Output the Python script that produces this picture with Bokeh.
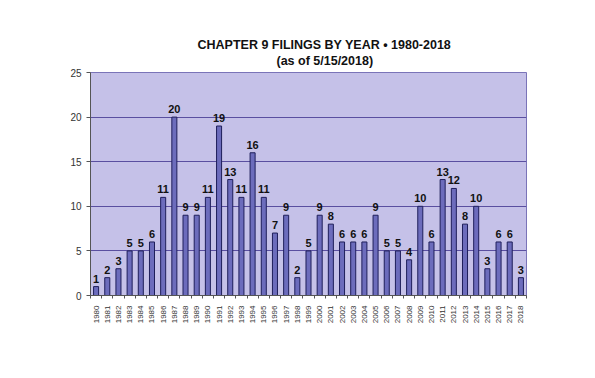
import math
from bokeh.plotting import figure
from bokeh.models import ColumnDataSource, FixedTicker, Range1d, Title, LabelSet
from bokeh.core.properties import value
from bokeh.embed import file_html
from bokeh.resources import INLINE

years = [str(y) for y in range(1980, 2019)]
filings = [1, 2, 3, 5, 5, 6, 11, 20, 9, 9, 11, 19, 13, 11, 16, 11, 7, 9, 2, 5,
           9, 8, 6, 6, 6, 9, 5, 5, 4, 10, 6, 13, 12, 8, 10, 3, 6, 6, 2]
bar_labels = ["1", "2", "3", "5", "5", "6", "11", "20", "9", "9", "11", "19", "13", "11",
              "16", "11", "7", "9", "2", "5", "9", "8", "6", "6", "6", "9", "5", "5", "4",
              "10", "6", "13", "12", "8", "10", "3", "6", "6", "3"]
y_ticks = [0, 5, 10, 15, 20, 25]

xs = list(range(len(years)))
src = ColumnDataSource(dict(x=xs, top=filings, lab=bar_labels))

p = figure(width=595, height=378, output_backend="svg", toolbar_location=None,
           x_range=Range1d(-0.5, len(years) - 0.5), y_range=Range1d(0, 25),
           min_border_left=90, min_border_right=69, min_border_top=72, min_border_bottom=83)

p.background_fill_color = "#c5c1e8"
p.border_fill_color = "white"
p.outline_line_color = "#7a74b8"

p.vbar(x="x", top="top", width=0.45, source=src, fill_color="#6c6cbc",
       line_color="#1e1e5a", line_width=1)

labels = LabelSet(x="x", y="top", text="lab", source=src, text_align="center",
                  text_baseline="bottom", y_offset=4, text_font=value("Liberation Sans"),
                  text_font_style="bold", text_font_size="11px", text_color="#111111")
p.add_layout(labels)

p.ygrid.ticker = FixedTicker(ticks=y_ticks)
p.ygrid.grid_line_color = "#5a4fa0"
p.ygrid.grid_line_width = 1
p.xgrid.grid_line_color = None

p.yaxis.ticker = FixedTicker(ticks=y_ticks)
p.yaxis.axis_line_color = "#555555"
p.yaxis.major_tick_line_color = "#555555"
p.yaxis.major_tick_in = 0
p.yaxis.major_tick_out = 4
p.yaxis.minor_tick_line_color = None
p.yaxis.major_label_text_font = "Liberation Sans"
p.yaxis.major_label_text_font_size = "10px"
p.yaxis.major_label_text_color = "#333333"
p.yaxis.major_label_standoff = 5

p.xaxis.ticker = FixedTicker(ticks=xs, minor_ticks=[i - 0.5 for i in range(len(years) + 1)])
p.xaxis.major_label_overrides = {i: y for i, y in enumerate(years)}
p.xaxis.major_label_orientation = math.pi / 2
p.xaxis.major_label_text_font = "Liberation Sans"
p.xaxis.major_label_text_font_size = "8px"
p.xaxis.major_label_text_color = "#333333"
p.xaxis.major_tick_line_color = None
p.xaxis.minor_tick_line_color = "#555555"
p.xaxis.minor_tick_in = 0
p.xaxis.minor_tick_out = 3
p.xaxis.axis_line_color = "#555555"
p.xaxis.major_label_standoff = 4

p.add_layout(Title(text="(as of 5/15/2018)", align="left", text_font="Liberation Sans",
                   text_font_size="12.5px", text_font_style="bold", text_color="#111111",
                   offset=186, standoff=9), "above")
p.add_layout(Title(text="CHAPTER 9 FILINGS BY YEAR \u2022 1980-2018", align="left",
                   text_font="Liberation Sans", text_font_size="12.5px", text_font_style="bold",
                   text_color="#111111", offset=107, standoff=-9), "above")

open("out.html", "w").write(file_html(p, INLINE))
